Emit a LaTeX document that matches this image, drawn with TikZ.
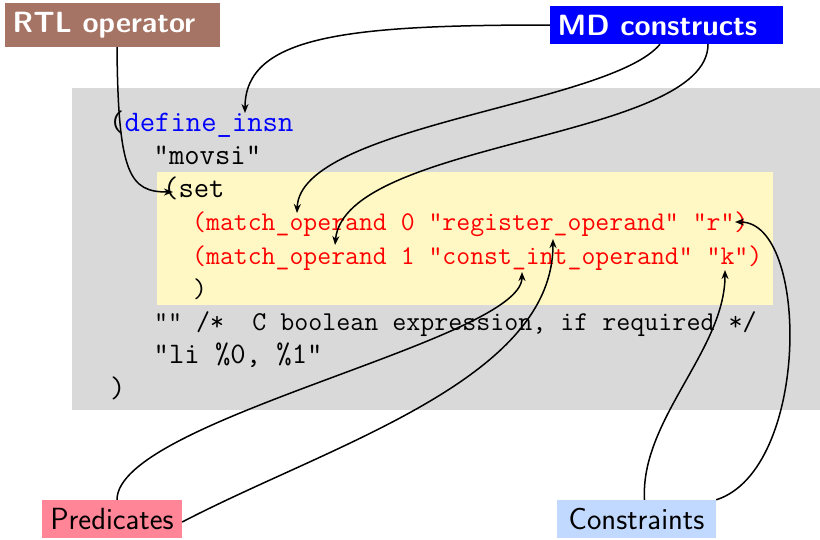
\documentclass[tikz,border=0pt]{standalone}
\usetikzlibrary{arrows.meta}
\definecolor{codegray}{RGB}{217,217,217}
\definecolor{codeyellow}{RGB}{255,248,196}
\definecolor{rtlbrown}{RGB}{166,116,100}
\definecolor{predpink}{RGB}{255,133,151}
\definecolor{conblue}{RGB}{194,217,255}
\definecolor{mdblue}{RGB}{0,0,255}
\begin{document}
\begin{tikzpicture}[x=1pt,y=-1pt,
  code/.style={anchor=base west, inner sep=0pt, font=\fontsize{29.8}{33}\selectfont\ttfamily},
  smallcode/.style={anchor=base west, inner sep=0pt, font=\fontsize{27}{30}\selectfont\ttfamily},
  tag/.style={inner sep=0pt, font=\fontsize{30.6}{33}\selectfont\sffamily},
  boldtag/.style={inner sep=0pt, text=white, font=\fontsize{29.3}{33}\selectfont\sffamily\bfseries},
  link/.style={line width=1.5pt, -{Stealth[length=9pt,width=7pt,inset=2.8pt]}}]
\useasboundingbox (0,0) rectangle (820,539);
% code panel and highlighted pattern
\fill[codegray] (72,88) rectangle (820,410);
\fill[codeyellow] (157,172) rectangle (773,305);

% code lines
\node[code] (l1) at (109,131)    {(\textcolor{blue}{define\_insn}};
\node[code] (l2) at (153.5,164.25) {"movsi"};
\node[code] (l3) at (163,197.5)  {(set};
\node[smallcode, text=red] (l4) at (192,230.75) {(match\_operand 0 "register\_operand" "r")};
\node[smallcode, text=red] (l5) at (192,264)    {(match\_operand 1 "const\_int\_operand" "k")};
\node[smallcode] (l6) at (193,297.25) {)};
\node[smallcode, font=\fontsize{27.2}{30}\selectfont\ttfamily] (l7) at (154,330.5)  {"" /*\ \ C boolean expression, if required */};
\node[code] (l8) at (153.5,363.75) {"li \%0, \%1"};
\node[code] (l9) at (110,397)    {)};

% labels
\node[boldtag, fill=rtlbrown, minimum width=215pt, minimum height=44pt] (rtl) at (112.5,25) {RTL operator\kern17pt};
\node[boldtag, fill=mdblue, minimum width=233pt, minimum height=38pt] (md) at (666.5,25) {MD constructs\kern18pt};
\node[tag, fill=predpink, minimum width=140pt, minimum height=38pt] (pred) at (112,519) {Predicates};
\node[tag, fill=conblue, minimum width=159pt, minimum height=38pt] (cons) at (636.5,519) {Constraints};

% arrow targets in the code
\coordinate (tDef) at (245,113);
\coordinate (tSet) at (173,192);
\coordinate (tOpA) at (297,213);
\coordinate (tOpB) at (335,245);
\coordinate (tPredA) at (553,239);
\coordinate (tPredB) at (522,272);
\coordinate (tConR) at (735,222);
\coordinate (tConK) at (725,270);

% connectors
\draw[link] (md.west) .. controls (350,25) and (245,35) .. (tDef);
\draw[link] ([xshift=-6.5pt]md.south) .. controls (610,105) and (300,125) .. (tOpA);
\draw[link] ([xshift=41.5pt]md.south) .. controls (708,140) and (345,140) .. (tOpB);
\draw[link] ([xshift=4.5pt]rtl.south) .. controls (118,175) and (130,192) .. (tSet);
\draw[link] ([xshift=5pt]pred.north) .. controls (117,420) and (522,340) .. (tPredB);
\draw[link] ([yshift=-3pt]pred.east) .. controls (330,445) and (553,380) .. (tPredA);
\draw[link] ([xshift=8pt]cons.north) .. controls (640,420) and (725,350) .. (tConK);
\draw[link] (cons.north east) .. controls (810,470) and (810,222) .. (tConR);
\end{tikzpicture}
\end{document}
